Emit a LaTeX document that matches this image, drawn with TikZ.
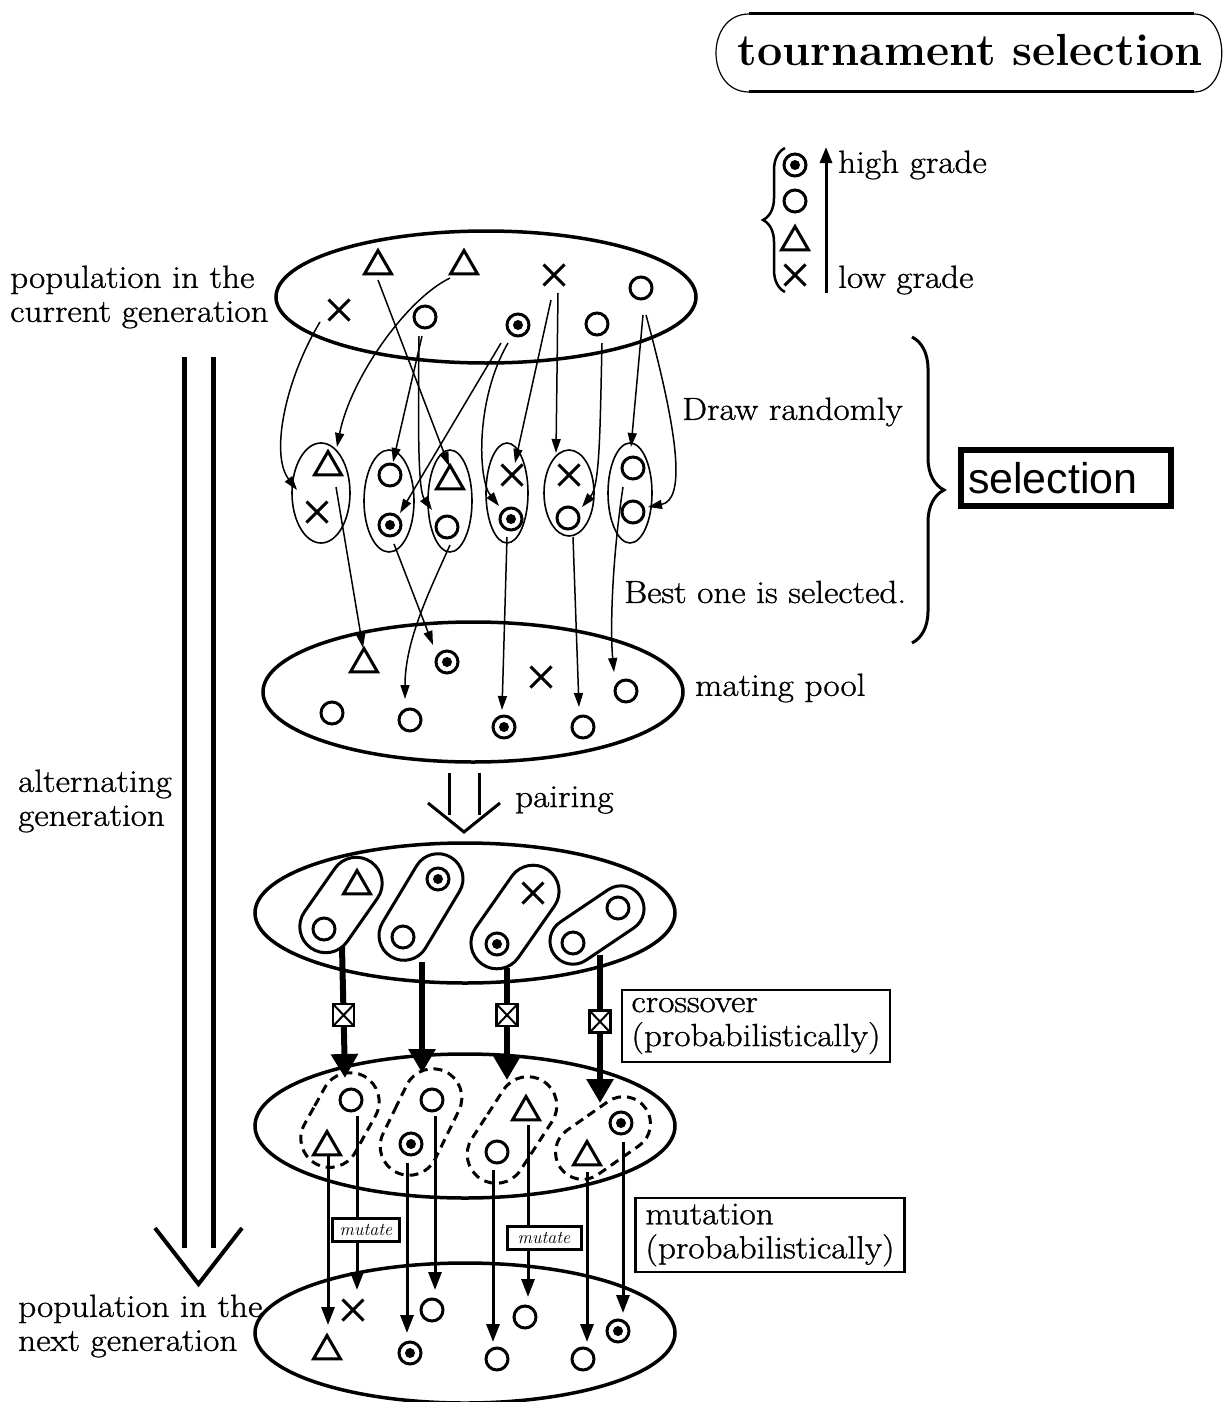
\documentclass[tikz,border=0pt]{standalone}
\usepackage{fontspec}
\setmainfont{Latin Modern Roman}[FakeStretch=1.1,FakeBold=1]
\newfontfamily\titlefont{Latin Modern Roman}
\setsansfont{Liberation Sans}
\usetikzlibrary{shapes.geometric,shapes.misc,arrows.meta,decorations.pathreplacing}
\newcommand\txtfont{\fontsize{32}{34}\selectfont}
\begin{document}
\begin{tikzpicture}[x=1pt,y=-1pt,
  sym/.style={draw,line width=3pt,inner sep=0pt,outer sep=0pt},
  ring/.style={sym,circle,minimum size=22pt},
  dotring/.style={ring,path picture={\fill (path picture bounding box.center) circle (5pt);}},
  tri/.style={sym,regular polygon,regular polygon sides=3,minimum size=31pt},
  xmark/.style={sym,cross out,minimum size=21pt},
  pop/.style={ellipse,draw,line width=3.5pt,inner sep=0pt},
  grp/.style={ellipse,draw,line width=1.6pt,inner sep=0pt},
  pair/.style={rounded rectangle,draw,line width=3pt,inner sep=0pt},
  child/.style={rounded rectangle,draw,line width=3pt,dash pattern=on 9pt off 6pt,inner sep=0pt},
  sel/.style={line width=1.5pt,-{Triangle[length=14pt,width=9pt]}},
  mut/.style={line width=3pt,-{Triangle[length=18pt,width=13pt]}},
  xo/.style={line width=6pt,-{Triangle[length=24pt,width=26pt]}},
  xbox/.style={draw,fill=white,line width=2.5pt,minimum width=21pt,minimum height=22pt,inner sep=0pt,
    path picture={\draw[-,line width=2pt] (path picture bounding box.south west) -- (path picture bounding box.north east)
      (path picture bounding box.north west) -- (path picture bounding box.south east);}},
  mutbox/.style={draw,fill=white,line width=3pt,minimum height=23pt,inner sep=0pt,
    font=\titlefont\fontsize{18}{20}\selectfont\itshape},
  lbl/.style={font=\txtfont,inner sep=0pt,align=left},
  infobox/.style={draw,line width=2.5pt,font=\txtfont,align=left,inner xsep=8pt,inner ysep=4pt},
]
\useasboundingbox (0,0) rectangle (1226,1402);

% ---------- title ----------
\node[font=\titlefont\fontsize{45}{50}\selectfont\bfseries,inner sep=0pt] (title) at (970,50) {tournament selection};
\draw[line width=3pt] (749,14) -- (1194,14) (749,92) -- (1194,92);
\draw[line width=1.2pt] (749,14) .. controls (705,14) and (705,92) .. (749,92);
\draw[line width=1.2pt] (1194,14) .. controls (1231,14) and (1231,92) .. (1194,92);

% ---------- legend ----------
\node[dotring] (lgB) at (795,165) {};
\node[ring] (lgO) at (795,201) {};
\node[tri] (lgT) at (795,242) {};
\node[xmark] (lgX) at (795,275) {};
\draw[decorate,decoration={brace,amplitude=22pt},line width=2.5pt] (785,292) -- (785,148);
\coordinate (gLow) at (826,293);
\coordinate (gHigh) at (826,147);
\draw[line width=3pt,-{Triangle[length=16pt,width=12pt]}] (gLow) -- (gHigh);
\node[lbl,anchor=west] (hi) at (838,165) {high grade};
\node[lbl,anchor=west] (lo) at (838,280) {low grade};

% ---------- populations ----------
\node[pop,minimum width=420pt,minimum height=132pt] (cur) at (486,297) {};
\node[pop,minimum width=420pt,minimum height=140pt] (pool) at (473,692) {};
\node[pop,minimum width=420pt,minimum height=140pt] (pairs) at (465,913) {};
\node[pop,minimum width=420pt,minimum height=144pt] (kids) at (465,1126) {};
\node[pop,minimum width=420pt,minimum height=140pt] (next) at (465,1333) {};

% current generation
\node[tri] (pT1) at (378,266) {};
\node[tri] (pT2) at (464,266) {};
\node[xmark] (pX1) at (339,310) {};
\node[ring] (pO1) at (425,317) {};
\node[dotring] (pB) at (518,325) {};
\node[xmark] (pX2) at (554,275) {};
\node[ring] (pO2) at (597,324) {};
\node[ring] (pO3) at (641,288) {};

% tournaments
\node[grp,minimum width=58pt,minimum height=100pt] (g1) at (321,493) {};
\node[grp,minimum width=50pt,minimum height=102pt] (g2) at (389,501) {};
\node[grp,minimum width=44pt,minimum height=102pt] (g3) at (450,501) {};
\node[grp,minimum width=42pt,minimum height=100pt] (g4) at (507,493) {};
\node[grp,minimum width=50pt,minimum height=86pt] (g5) at (569,493) {};
\node[grp,minimum width=44pt,minimum height=100pt] (g6) at (630,493) {};
\node[tri] (g1a) at (328,467) {};
\node[xmark] (g1b) at (317,512) {};
\node[ring] (g2a) at (390,475) {};
\node[dotring] (g2b) at (390,525) {};
\node[tri] (g3a) at (450,481) {};
\node[ring] (g3b) at (447,527) {};
\node[xmark] (g4a) at (512,475) {};
\node[dotring] (g4b) at (511,519) {};
\node[xmark] (g5a) at (569,475) {};
\node[ring] (g5b) at (568,518) {};
\node[ring] (g6a) at (633,468) {};
\node[ring] (g6b) at (633,512) {};

% mating pool
\node[tri] (mT) at (364,664) {};
\node[dotring] (mB1) at (447,662) {};
\node[xmark] (mX) at (541,677) {};
\node[ring] (mO4) at (626,691) {};
\node[ring] (mO1) at (332,713) {};
\node[ring] (mO2) at (410,720) {};
\node[dotring] (mB2) at (504,727) {};
\node[ring] (mO3) at (583,727) {};

% pairs
\node[pair,rotate=55,minimum width=105pt,minimum height=52pt] (b1) at (341,905) {};
\node[pair,rotate=59,minimum width=116pt,minimum height=50pt] (b2) at (421,907) {};
\node[pair,rotate=55,minimum width=115pt,minimum height=52pt] (b3) at (515,917) {};
\node[pair,rotate=34,minimum width=104pt,minimum height=46pt] (b4) at (597,925) {};
\node[tri] (b1t) at (357,886) {};
\node[ring] (b1o) at (324,929) {};
\node[dotring] (b2b) at (438,879) {};
\node[ring] (b2o) at (403,937) {};
\node[xmark] (b3x) at (533,893) {};
\node[dotring] (b3b) at (497,944) {};
\node[ring] (b4a) at (618,908) {};
\node[ring] (b4b) at (573,943) {};

% offspring
\node[child,rotate=61,minimum width=100pt,minimum height=58pt] (d1) at (340,1120) {};
\node[child,rotate=64,minimum width=112pt,minimum height=58pt] (d2) at (421,1122) {};
\node[child,rotate=57,minimum width=116pt,minimum height=58pt] (d3) at (512,1130) {};
\node[child,rotate=35,minimum width=104pt,minimum height=54pt] (d4) at (603,1138) {};
\node[ring] (c1O) at (351,1100) {};
\node[tri] (c1T) at (327,1147) {};
\node[ring] (c2O) at (432,1100) {};
\node[dotring] (c2B) at (411,1144) {};
\node[tri] (c3T) at (526,1112) {};
\node[ring] (c3O) at (497,1152) {};
\node[dotring] (c4B) at (621,1123) {};
\node[tri] (c4T) at (587,1157) {};

% next generation
\node[tri] (nT) at (327,1351) {};
\node[xmark] (nX) at (353,1310) {};
\node[dotring] (nB1) at (410,1353) {};
\node[ring] (nO1) at (432,1310) {};
\node[ring] (nO2) at (497,1359) {};
\node[ring] (nO3) at (525,1317) {};
\node[ring] (nO4) at (583,1359) {};
\node[dotring] (nB2) at (618,1331) {};

% ---------- random draws ----------
\draw[sel] ([shift={(-19,12)}]pX1.center) .. controls (285,380) and (270,455) .. ([shift={(-20,-22)}]g1b.center);
\draw[sel] ([shift={(-14,12)}]pT2.center) .. controls (405,300) and (350,380) .. ([shift={(9,-20)}]g1a.center);
\draw[sel] ([shift={(0,14)}]pT1.center) -- ([shift={(-1,-15)}]g3a.center);
\draw[sel] ([shift={(-3,19)}]pO1.center) -- ([shift={(3,-13)}]g2a.center);
\draw[sel] ([shift={(-6,19)}]pO1.center) .. controls (418,430) and (418,490) .. ([shift={(-15,-17)}]g3b.center);
\draw[sel] ([shift={(-17,18)}]pB.center) -- ([shift={(10,-12)}]g2b.center);
\draw[sel] ([shift={(-10,18)}]pB.center) .. controls (475,400) and (478,480) .. ([shift={(-12,-13)}]g4b.center);
\draw[sel] ([shift={(-3,25)}]pX2.center) -- ([shift={(3,-12)}]g4a.center);
\draw[sel] ([shift={(4,18)}]pX2.center) -- ([shift={(-13,-22)}]g5a.center);
\draw[sel] ([shift={(5,19)}]pO2.center) .. controls (600,430) and (600,485) .. ([shift={(14,-11)}]g5b.center);
\draw[sel] ([shift={(2,27)}]pO3.center) -- ([shift={(-2,-21)}]g6a.center);
\draw[sel] ([shift={(5,27)}]pO3.center) .. controls (680,440) and (685,500) .. ([shift={(15,-5)}]g6b.center);

% ---------- winners to the mating pool ----------
\draw[sel] ([shift={(8,20)}]g1a.center) -- ([shift={(-1,-16)}]mT.center);
\draw[sel] ([shift={(4,19)}]g2b.center) -- ([shift={(-14,-17)}]mB1.center);
\draw[sel] ([shift={(3,18)}]g3b.center) .. controls (430,590) and (405,640) .. ([shift={(-5,-21)}]mO2.center);
\draw[sel] ([shift={(-4,18)}]g4b.center) -- ([shift={(-2,-17)}]mB2.center);
\draw[sel] ([shift={(5,19)}]g5b.center) -- ([shift={(-4,-20)}]mO3.center);
\draw[sel] ([shift={(-10,19)}]g6a.center) .. controls (612,560) and (610,630) .. ([shift={(-12,-19)}]mO4.center);

% ---------- crossover ----------
\draw[xo] ([shift={(18,18)}]b1o.center) -- node[xbox,pos=.52]{} ([shift={(-6,-22)}]c1O.center);
\draw[xo] ([shift={(19,25)}]b2o.center) -- ([shift={(-10,-27)}]c2O.center);
\draw[xo] ([shift={(10,24)}]b3b.center) -- node[xbox,pos=.42]{} ([shift={(-19,-32)}]c3T.center);
\draw[xo] ([shift={(27,12)}]b4b.center) -- node[xbox,pos=.45]{} ([shift={(-21,-20)}]c4B.center);

% ---------- mutation ----------
\draw[mut] ([shift={(1,8)}]c1T.center) -- ([shift={(1,-26)}]nT.center);
\draw[mut] ([shift={(6,16)}]c1O.center) -- ([shift={(4,-20)}]nX.center);
\draw[mut] ([shift={(-4,19)}]c2B.center) -- ([shift={(-3,-20)}]nB1.center);
\draw[mut] ([shift={(3,16)}]c2O.center) -- ([shift={(3,-20)}]nO1.center);
\draw[mut] ([shift={(-4,18)}]c3O.center) -- ([shift={(-4,-17)}]nO2.center);
\draw[mut] ([shift={(2,13)}]c3T.center) -- ([shift={(3,-20)}]nO3.center);
\draw[mut] ([shift={(0,15)}]c4T.center) -- ([shift={(4,-17)}]nO4.center);
\draw[mut] ([shift={(2,19)}]c4B.center) -- ([shift={(5,-18)}]nB2.center);
\node[mutbox,minimum width=67pt] (mu1) at (366,1230) {mutate};
\node[mutbox,minimum width=74pt] (mu2) at (544,1238) {mutate};

% ---------- generation arrow ----------
\draw[line width=5pt] (184,357) -- (184,1248) (213,357) -- (213,1248);
\draw[line width=4pt] (155,1228) -- (198.5,1284) -- (242,1228);

% ---------- pairing arrow ----------
\draw[line width=3pt] (449,773) -- (449,815) (479,773) -- (479,815);
\draw[line width=3pt] (428,803) -- (464,832) -- (500,803);

% ---------- labels ----------
\node[lbl,anchor=west] (curgen) at (10,297) {population in the\\current generation};
\node[lbl,anchor=west] (alt) at (18,801) {alternating\\generation};
\node[lbl,anchor=west] (nextgen) at (18,1326) {population in the\\next generation};
\node[lbl,anchor=west] (drawr) at (682,412) {Draw randomly};
\node[lbl,anchor=west] (best) at (624,592) {Best one is selected.};
\node[lbl,anchor=west] (mpool) at (695,688) {mating pool};
\node[lbl,anchor=west] (pairing) at (515,800) {pairing};
\node[infobox,minimum width=268pt,minimum height=72pt] (xolbl) at (756,1026) {crossover\\(probabilistically)};
\node[infobox,minimum width=269pt,minimum height=74pt] (mulbl) at (770,1235) {mutation\\(probabilistically)};

% ---------- selection ----------
\draw[decorate,decoration={brace,amplitude=32pt},line width=3pt] (912,337) -- (912,643);
\node[draw,line width=6pt,anchor=west,minimum height=56pt,text width=196pt,inner xsep=7pt,
  font=\sffamily\fontsize{43}{50}\selectfont] (selbox) at (958,478) {selection};

\end{tikzpicture}
\end{document}
